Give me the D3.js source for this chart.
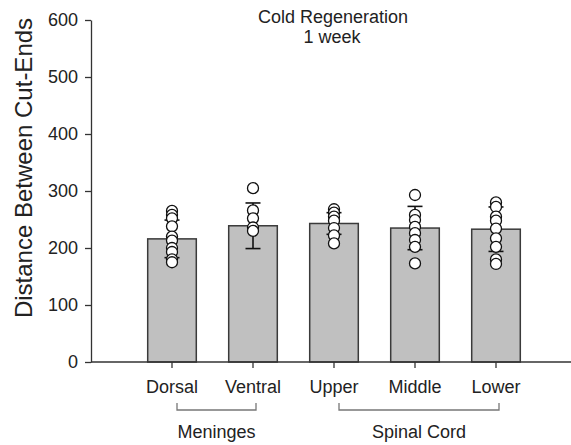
<!DOCTYPE html>
<html><head><meta charset="utf-8">
<script src="https://cdn.jsdelivr.net/npm/d3@7"></script>
<style>body{margin:0;background:#fff}svg{display:block}text{font-family:"Liberation Sans",Arial,sans-serif;fill:#222}</style>
</head><body><svg id="c" width="571" height="445"></svg>
<script>
const categories = ["Dorsal","Ventral","Upper","Middle","Lower"];
const means = [216, 239, 243, 235, 233];
const sds = [33, 40, 19, 38, 39];
const points = [
  [265, 258, 252, 238, 220, 213, 200, 193, 180, 175],
  [305, 266, 252, 236, 230],
  [268, 262, 255, 248, 235, 222, 208],
  [293, 258, 249, 237, 226, 214, 202, 173],
  [280, 272, 255, 248, 234, 217, 202, 180, 172]
];
const yTicks = [0, 100, 200, 300, 400, 500, 600];
const groups = [
  {label: "Meninges", from: "Dorsal", to: "Ventral"},
  {label: "Spinal Cord", from: "Upper", to: "Lower"}
];
const title = ["Cold Regeneration", "1 week"];
const yTitle = "Distance Between Cut-Ends";

const svg = d3.select("#c");
const y = d3.scaleLinear().domain([0, 600]).range([362, 20]);
const x = d3.scaleBand().domain(categories).range([131.5, 536.5]).paddingInner(0.4).paddingOuter(0.2);
const cx = c => x(c) + x.bandwidth() / 2;

// bars
svg.append("g").selectAll("rect").data(categories).join("rect")
  .attr("x", c => x(c)).attr("width", x.bandwidth())
  .attr("y", (c, i) => y(means[i])).attr("height", (c, i) => y(0) - y(means[i]))
  .attr("fill", "#c0c0c0").attr("stroke", "#3a3a3a").attr("stroke-width", 1.5);

// error bars
const eb = svg.append("g").attr("stroke", "#111").attr("stroke-width", 1.6);
categories.forEach((c, i) => {
  const hi = y(means[i] + sds[i]), lo = y(means[i] - sds[i]);
  eb.append("line").attr("x1", cx(c)).attr("x2", cx(c)).attr("y1", hi).attr("y2", lo);
  [hi, lo].forEach(v => eb.append("line").attr("x1", cx(c) - 7.5).attr("x2", cx(c) + 7.5).attr("y1", v).attr("y2", v));
});

// points
categories.forEach((c, i) => {
  svg.append("g").selectAll("circle").data(points[i]).join("circle")
    .attr("cx", cx(c)).attr("cy", d => y(d)).attr("r", 5.5)
    .attr("fill", "#fff").attr("stroke", "#111").attr("stroke-width", 1.3);
});

// y axis
const ya = svg.append("g").attr("transform", "translate(91,0)")
  .call(d3.axisLeft(y).tickValues(yTicks).tickSize(6).tickPadding(7).tickSizeOuter(0));
ya.select(".domain").attr("stroke", "#333").attr("stroke-width", 1.3);
ya.selectAll(".tick line").attr("stroke", "#333").attr("stroke-width", 1.3);
ya.selectAll(".tick text").style("font-size", "18px").style("font-family", "Liberation Sans, Arial, sans-serif").attr("fill", "#222");

// x axis
svg.append("line").attr("x1", 91).attr("x2", 571).attr("y1", y(0)).attr("y2", y(0))
  .attr("stroke", "#333").attr("stroke-width", 1.3);
const xa = svg.append("g").attr("transform", `translate(0,${y(0)})`)
  .call(d3.axisBottom(x).tickSize(6).tickPadding(12).tickSizeOuter(0));
xa.select(".domain").remove();
xa.selectAll(".tick line").attr("stroke", "#333").attr("stroke-width", 1.3);
xa.selectAll(".tick text").style("font-size", "18px").style("font-family", "Liberation Sans, Arial, sans-serif").attr("fill", "#222");

// group brackets
groups.forEach(g => {
  const x1 = cx(g.from) + 5, x2 = cx(g.to) + 3;
  svg.append("path").attr("d", `M${x1},403V410H${x2}V403`).attr("fill", "none")
    .attr("stroke", "#777").attr("stroke-width", 1.3);
  svg.append("text").attr("x", (x1 + x2) / 2).attr("y", 438).attr("text-anchor", "middle")
    .style("font-size", "18px").text(g.label);
});

// title
svg.append("text").attr("x", 333).attr("y", 23).attr("text-anchor", "middle").style("font-size", "18px").text(title[0]);
svg.append("text").attr("x", 332).attr("y", 43).attr("text-anchor", "middle").style("font-size", "18px").text(title[1]);

// y title
svg.append("text").attr("transform", "translate(32,168) rotate(-90)").attr("text-anchor", "middle")
  .style("font-size", "24px").text(yTitle);
</script></body></html>
